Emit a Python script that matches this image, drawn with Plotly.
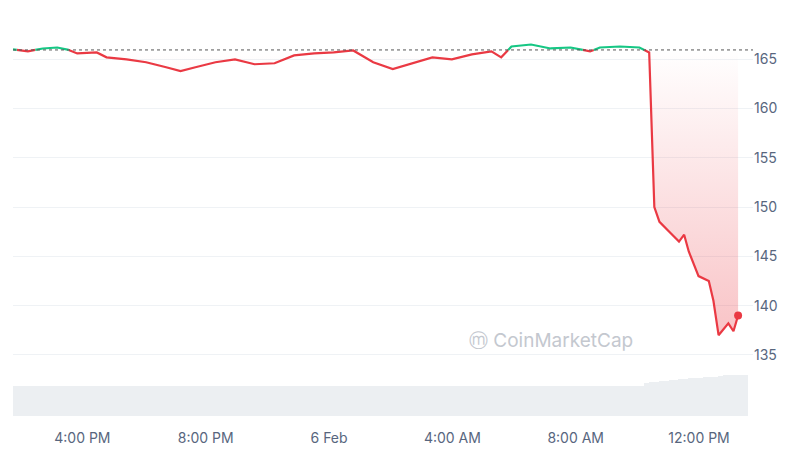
import plotly.graph_objects as go
import pandas as pd

times = ["2025-02-05 13:45","2025-02-05 14:14","2025-02-05 14:43","2025-02-05 15:11","2025-02-05 15:31",
"2025-02-05 15:50","2025-02-05 16:28","2025-02-05 16:47","2025-02-05 17:26","2025-02-05 18:04",
"2025-02-05 18:43","2025-02-05 19:11","2025-02-05 19:40","2025-02-05 20:19","2025-02-05 20:57",
"2025-02-05 21:35","2025-02-05 22:14","2025-02-05 22:52","2025-02-05 23:31","2025-02-06 00:09",
"2025-02-06 00:47","2025-02-06 01:26","2025-02-06 02:04","2025-02-06 02:43","2025-02-06 03:21",
"2025-02-06 03:59","2025-02-06 04:38","2025-02-06 05:16","2025-02-06 05:35","2025-02-06 05:55",
"2025-02-06 06:33","2025-02-06 07:11","2025-02-06 07:50","2025-02-06 08:28","2025-02-06 08:47",
"2025-02-06 09:26","2025-02-06 10:04","2025-02-06 10:23","2025-02-06 10:33","2025-02-06 10:43",
"2025-02-06 11:02","2025-02-06 11:21","2025-02-06 11:31","2025-02-06 11:40","2025-02-06 11:59",
"2025-02-06 12:19","2025-02-06 12:28","2025-02-06 12:38","2025-02-06 12:57","2025-02-06 13:07",
"2025-02-06 13:16"]
prices = [166.0,165.8,166.1,166.2,166.0,165.6,165.7,165.2,165.0,164.7,164.2,163.8,164.2,164.7,165.0,
164.5,164.6,165.4,165.6,165.7,165.9,164.7,164.0,164.6,165.2,165.0,165.5,165.8,165.2,166.3,166.5,
166.1,166.2,165.8,166.2,166.3,166.2,165.7,150.0,148.5,147.5,146.5,147.2,145.5,143.0,142.5,140.5,
137.0,138.2,137.4,139.0]
volume = [10,10,10,10,10,10,10,10,10,10,10,10,10,10,10,10,10,10,10,10,10,10,10,10,10,10,10,10,10,10,
10,10,10,10,10,10,10,10,11,11.5,11.8,12,12.2,12.4,12.6,12.8,13,13.2,13.4,13.6,13.8]
baseline = 165.95

t = pd.to_datetime(times)
gx, gy, rx, ry = [], [], [], []
for i in range(len(prices)):
    up = prices[i] > baseline
    if i > 0:
        p0, p1 = prices[i-1], prices[i]
        if (p0 > baseline) != up:
            f = (baseline - p0) / (p1 - p0)
            tc = t[i-1] + (t[i] - t[i-1]) * f
            gx.append(tc); gy.append(baseline); rx.append(tc); ry.append(baseline)
            if up:
                rx.append(None); ry.append(None)
            else:
                gx.append(None); gy.append(None)
    if up:
        gx.append(t[i]); gy.append(prices[i])
    else:
        rx.append(t[i]); ry.append(prices[i])

fig = go.Figure()
fig.add_trace(go.Bar(x=t, y=volume, marker_color="#eceff2", marker_line_width=0, yaxis="y2", width=40*60*1000))
fig.add_trace(go.Scatter(x=t, y=[baseline]*len(t), mode="lines", line=dict(width=0), hoverinfo="skip"))
fig.add_trace(go.Scatter(x=t, y=[min(p, baseline) for p in prices], mode="lines", line=dict(width=0),
                         fill="tonexty", fillcolor="rgba(234,57,67,0.15)",
                         fillgradient=dict(type="vertical", colorscale=[[0, "rgba(234,57,67,0.3)"], [1, "rgba(234,57,67,0.0)"]])))
fig.add_trace(go.Scatter(x=rx, y=ry, mode="lines", line=dict(color="#ea3943", width=2.2), connectgaps=False))
fig.add_trace(go.Scatter(x=gx, y=gy, mode="lines", line=dict(color="#16c784", width=2.2), connectgaps=False))
fig.add_trace(go.Scatter(x=[t[-1]], y=[prices[-1]], mode="markers", marker=dict(color="#ea3943", size=8)))
fig.add_shape(type="line", xref="paper", x0=0, x1=1, y0=baseline, y1=baseline,
              line=dict(color="#555", width=1, dash="dot"))
fig.add_annotation(xref="paper", yref="paper", x=0.84, y=0.155, text="ⓜ CoinMarketCap", showarrow=False,
                   font=dict(size=19, color="#c4c8cf", family="Inter"))

fig.update_layout(
    width=800, height=460, margin=dict(l=5, r=55, t=5, b=52),
    paper_bgcolor="white", plot_bgcolor="white", showlegend=False, bargap=0,
    font=dict(family="Inter", size=14, color="#58667e"),
    xaxis=dict(range=[t[0], pd.Timestamp("2025-02-06 13:45")], showgrid=False, showline=False,
               tickvals=pd.to_datetime(["2025-02-05 16:00","2025-02-05 20:00","2025-02-06 00:00",
                                        "2025-02-06 04:00","2025-02-06 08:00","2025-02-06 12:00"]),
               ticktext=["4:00 PM","8:00 PM","6 Feb","4:00 AM","8:00 AM","12:00 PM"], ticks="",
               automargin=False, ticklabelstandoff=12),
    yaxis=dict(side="right", range=[128.8, 169.7], tickvals=[135,140,145,150,155,160,165],
               gridcolor="#eff2f5", zeroline=False, ticks="", automargin=False),
    yaxis2=dict(overlaying="y", range=[0, 135], visible=False),
)
fig.write_html("out.html")
